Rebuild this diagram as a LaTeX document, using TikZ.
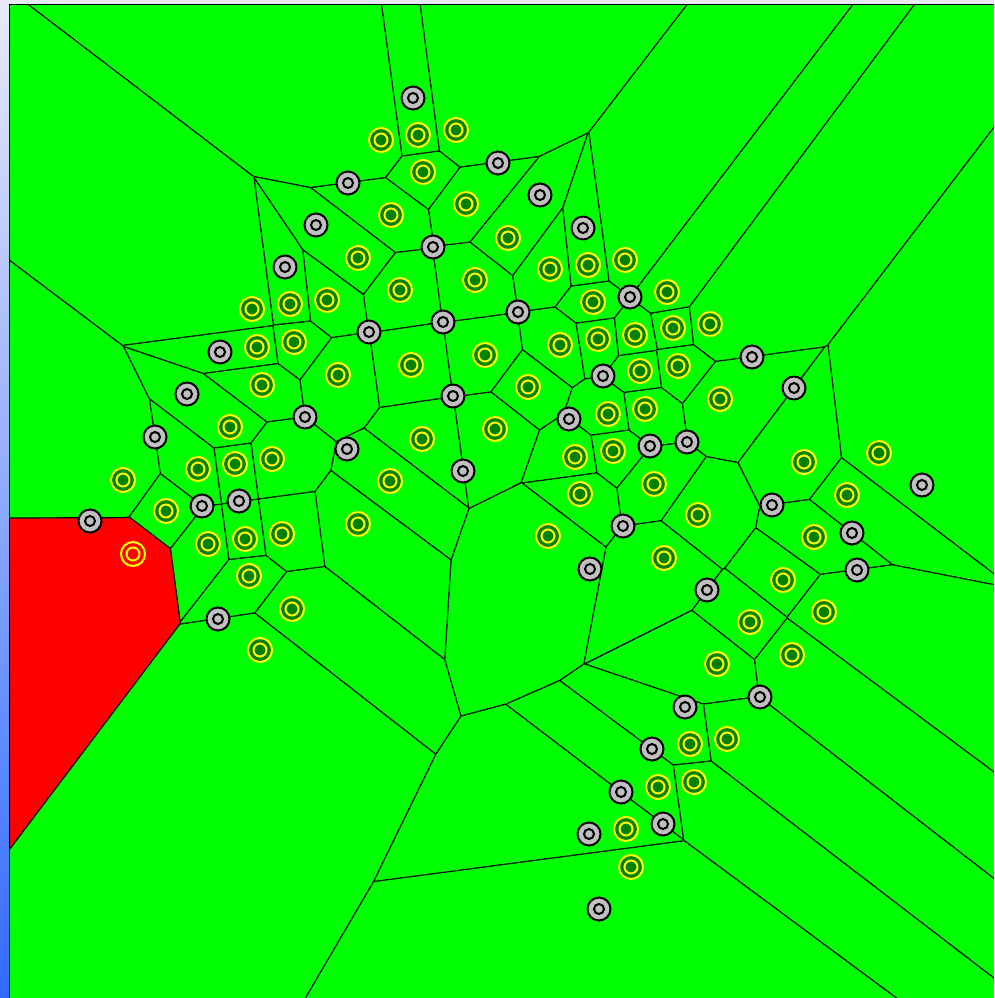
\documentclass[tikz,border=0pt]{standalone}
\definecolor{vgreen}{HTML}{00FF00}
\definecolor{dkgreen}{HTML}{008000}
\definecolor{ylw}{HTML}{FFFF00}
\definecolor{gry}{HTML}{C0C0C0}
\definecolor{lav}{HTML}{E8EAF8}
\definecolor{stripbot}{HTML}{2F6BFF}
\definecolor{vred}{HTML}{FF0000}
\tikzset{
  ymark/.style={draw=ylw,line width=2pt,fill=dkgreen},
  ysel/.style={draw=ylw,line width=2pt},
  gmarkout/.style={draw=black,line width=2pt,fill=gry},
  gmarkin/.style={draw=black,line width=2pt},
  frameline/.style={draw=black,line width=1pt},
  edgeline/.style={draw=black,line width=1.2pt}
}
\makeatletter
\newdimen\vorvx \newdimen\vorvy \newdimen\vormx \newdimen\vormy
\newdimen\vorax \newdimen\voray \newdimen\vordx \newdimen\vordy
\newdimen\vorbx \newdimen\vorby \newdimen\vorcx \newdimen\vorcy
\def\vorprep#1#2#3#4{%
  \pgfpointnormalised{\pgfqpoint{\dimexpr#3pt-#1pt\relax}{\dimexpr#4pt-#2pt\relax}}%
  \vorvx=\pgf@x \vorvy=\pgf@y
  \vorvx=3000\vorvx \vorvy=3000\vorvy
  \vormx=#1pt \advance\vormx by #3pt \divide\vormx by 2
  \vormy=#2pt \advance\vormy by #4pt \divide\vormy by 2
  \vorax=\vormx \advance\vorax by -\vorvy
  \voray=\vormy \advance\voray by \vorvx
  \vordx=\vormx \advance\vordx by \vorvy
  \vordy=\vormy \advance\vordy by -\vorvx
  \vorbx=\vorax \advance\vorbx by -\vorvx
  \vorby=\voray \advance\vorby by -\vorvy
  \vorcx=\vordx \advance\vorcx by -\vorvx
  \vorcy=\vordy \advance\vorcy by -\vorvy
}
\protected\def\vorseg#1#2#3#4{\pgfpathmoveto{\pgfqpoint{#1}{#2}}\pgfpathlineto{\pgfqpoint{#3}{#4}}}
\def\vorclip{%
  \pgfpathmoveto{\pgfqpoint{\vorax}{\voray}}%
  \pgfpathlineto{\pgfqpoint{\vorbx}{\vorby}}%
  \pgfpathlineto{\pgfqpoint{\vorcx}{\vorcy}}%
  \pgfpathlineto{\pgfqpoint{\vordx}{\vordy}}%
  \pgfpathclose
  \pgfusepath{clip}%
  \xdef\vorsegs{\vorsegs\vorseg{\the\vorax}{\the\voray}{\the\vordx}{\the\vordy}}%
}
\def\vorpair#1#2#3#4{%
  \ifdim#1pt=#3pt\relax
    \ifdim#2pt=#4pt\relax\else\vorprep{#1}{#2}{#3}{#4}\vorclip\fi
  \else\vorprep{#1}{#2}{#3}{#4}\vorclip\fi}
\def\vornorel{\pgf@relevantforpicturesizefalse}
\def\vorstroke{\pgfsetlinewidth{1.2pt}\pgfsetstrokecolor{black}\vorsegs\pgfusepath{stroke}}
\gdef\vorsegs{}
\makeatother

\def\ylistm{381/140,418/135,456/130,423/172,391/215,466/204,508/238,358/258,475/280,400/290,550/269,588/265,625/260,593/302,667/292,710/324,673/328,635/335,598/339,560/345,485/355,411/365,338/375,294/342,257/347,262/385,230/427,198/469,235/464,272/459,166/511,208/544,245/539,282/534,249/576,292/609,260/650,123/480,327/300,290/304,252/309,358/524,390/481,422/439,495/429,528/387,640/371,678/366,720/399,645/409,608/414,613/451,575/457,580/494,654/484,548/536,664/558,698/515,804/462,879/453,847/495,814/537,783/580,824/612,750/622,792/655,717/664,690/744,727/739,694/782,658/787,626/829,631/867}
\edef\vlist{133/554,\ylistm}
\def\glist{413/98,498/163,348/183,540/195,583/228,316/225,285/267,433/247,630/297,518/312,443/322,369/332,220/352,187/394,155/437,90/521,202/506,239/501,305/417,218/619,453/396,347/449,463/471,569/419,603/376,650/446,623/526,590/569,752/357,794/388,687/442,772/505,852/533,857/570,922/485,707/590,652/749,621/792,589/834,663/824,599/909,760/697,685/707}

\begin{document}
\begin{tikzpicture}[x=1pt,y=1pt,yscale=-1]
\useasboundingbox (0,0) rectangle (994,998);
\fill[lav] (0,0) rectangle (994,998);
\shade[top color=lav,bottom color=stripbot] (0,0) rectangle (9,998);
\begin{scope}
  \clip (9,4.5) rectangle (994,998);
  \fill[vgreen] (9,4.5) rectangle (994,998);
  \begin{scope}
    \vornorel
    \foreach \xj/\yj in \vlist {\vorpair{133}{554}{\xj}{\yj}}
    \fill[vred] (0,0) rectangle (994,998);
  \end{scope}
  \foreach \xi/\yi in \vlist {%
    \begin{scope}
      \vornorel\gdef\vorsegs{}%
      \foreach \xj/\yj in \vlist {\vorpair{\xi}{\yi}{\xj}{\yj}}%
      \vorstroke
    \end{scope}
  }
  % top edge of the selected (red) cell, as the reference shows it
  \coordinate (rtl) at (9,518);
  \coordinate (rtr) at (128.3,517.6);
  \fill[vred] (rtl) -- (rtr) -- (128,519.5) -- (128,530) -- (9,541) -- cycle;
  \path[edgeline] (rtl) -- (rtr);
\end{scope}
\draw[frameline] (9,998) -- (9,4.5) -- (994,4.5);
\foreach \x/\y in \ylistm {
  \path[ymark] (\x,\y) circle[radius=12pt];
  \path[ysel] (\x,\y) circle[radius=6.5pt];
}
\path[ysel] (133,554) circle[radius=12pt] (133,554) circle[radius=6.5pt];
\foreach \x/\y in \glist {
  \path[gmarkout] (\x,\y) circle[radius=11.5pt];
  \path[gmarkin] (\x,\y) circle[radius=5pt];
}
\end{tikzpicture}
\end{document}
